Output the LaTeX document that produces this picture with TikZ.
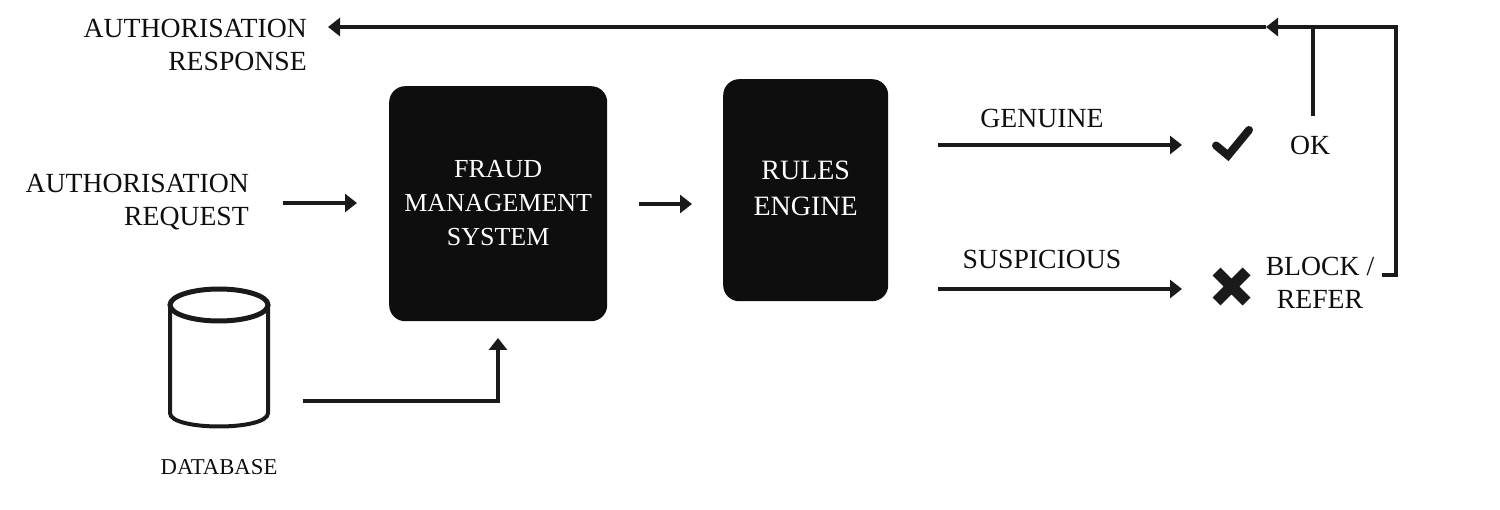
\documentclass[tikz,border=0pt]{standalone}
\usepackage{fontspec}
\setmainfont{Liberation Serif}
\usetikzlibrary{arrows.meta}
\definecolor{ink}{HTML}{0E0E0E}
\definecolor{linec}{HTML}{1A1A1A}
\tikzset{
  x=1pt,y=-1pt,
  conn/.style={draw=linec,line width=4.5pt,-{Triangle[width=18pt,length=12pt]}},
  plain/.style={draw=linec,line width=4.5pt},
  lab/.style={font=\fontsize{27.7}{33.5}\selectfont,text=ink,inner sep=0pt,align=center},
  labr/.style={font=\fontsize{27.7}{33.5}\selectfont,text=ink,inner sep=0pt,align=right,anchor=east},
  blk/.style={fill=ink,rounded corners=16pt,text=white,align=center,inner sep=0pt,anchor=north west},
}
\begin{document}
\begin{tikzpicture}
\useasboundingbox (0,0) rectangle (1500,510);
\node[blk,font=\fontsize{26}{34}\selectfont,minimum width=218pt,minimum height=235pt] (fms) at (389,86) {FRAUD\\MANAGEMENT\\SYSTEM\\[-32pt]};
\node[blk,font=\fontsize{28}{36}\selectfont,minimum width=165pt,minimum height=222pt] (re) at (723,79) {RULES\\ENGINE\\[-32pt]};
\node[labr] (resp) at (307,45) {AUTHORISATION\\RESPONSE};
\node[labr] (req) at (249,202) {AUTHORISATION\\REQUEST};
\node[lab] (gen) at (1042,118) {GENUINE};
\node[lab] (sus) at (1042,259) {SUSPICIOUS};
\node[lab] (ok) at (1310,145) {OK};
\node[lab] (blk) at (1320,283) {BLOCK /\\REFER};
\node[lab,font=\fontsize{22.7}{26}\selectfont] (db) at (219,467) {DATABASE};
\coordinate (reqs) at (283,203);
\coordinate (reqe) at (357,203);
\draw[conn] (reqs) -- (reqe);
\coordinate (ms) at (639,204);
\coordinate (me) at (692,204);
\draw[conn] (ms) -- (me);
\coordinate (gs) at (938,145);
\coordinate (ge) at (1182,145);
\draw[conn] (gs) -- (ge);
\coordinate (ss) at (938,289);
\coordinate (se) at (1182,289);
\draw[conn] (ss) -- (se);
\coordinate (ds) at (303,401);
\coordinate (dm) at (498,401);
\coordinate (de) at (498,338);
\draw[conn] (ds) -- (dm) -- (de);
\coordinate (bs) at (1382,275);
\coordinate (bm) at (1396,275);
\coordinate (bt) at (1396,27);
\coordinate (at) at (1266,27);
\coordinate (ae) at (328,27);
\draw[conn] (bs) -- (bm) -- (bt) -- (at);
\draw[conn] (at) -- (ae);
\coordinate (ks) at (1313,116);
\coordinate (kt) at (1313,27);
\draw[plain] (ks) -- (kt);
\draw[linec,line width=4pt,fill=white] (170,305) -- (170,413) .. controls (170,431) and (268,431) .. (268,413) -- (268,305);
\draw[linec,line width=5pt] (219,305) ellipse[x radius=49,y radius=16];
\draw[linec,line width=8pt,line cap=round,miter limit=10] (1216,145.5) -- (1228,155.5) -- (1249,130);
\draw[linec,line width=11pt] (1216.5,271.5) -- (1246.5,301.5) (1246.5,271.5) -- (1216.5,301.5);
\end{tikzpicture}
\end{document}
